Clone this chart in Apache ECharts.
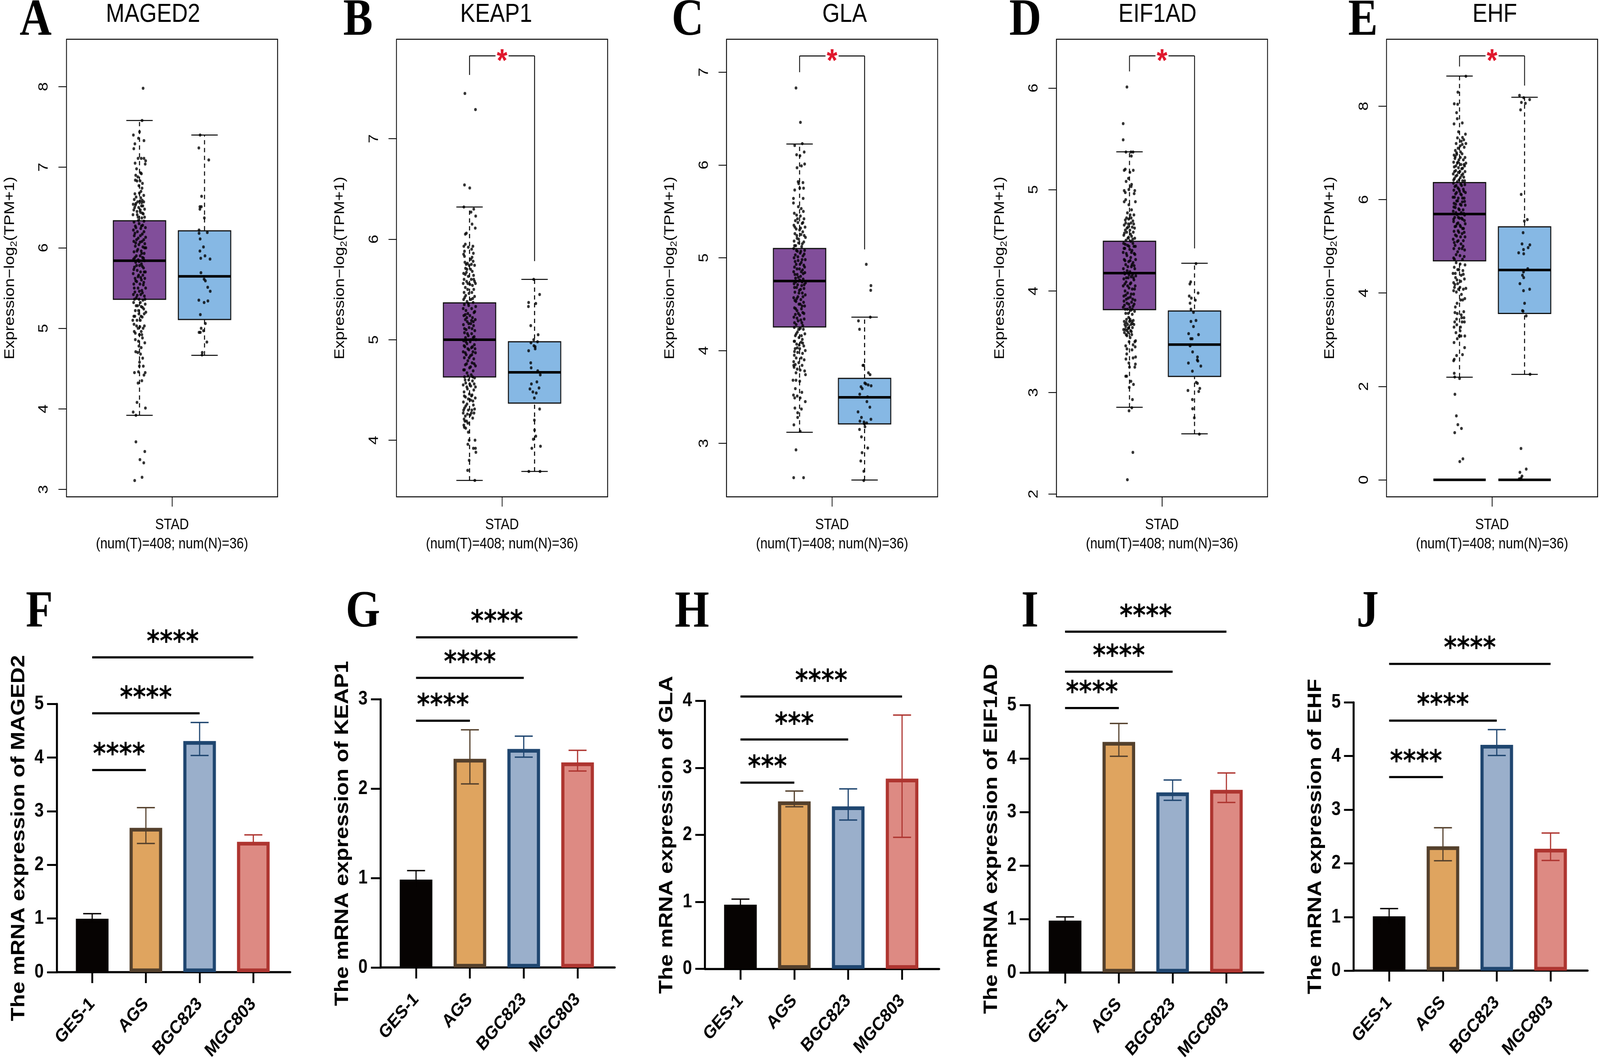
<!DOCTYPE html>
<html><head><meta charset="utf-8">
<style>html,body{margin:0;padding:0;background:#fff;overflow:hidden}#c{width:4805px;height:2719px;transform-origin:0 0}</style>
<script src="https://cdn.jsdelivr.net/npm/echarts@6/dist/echarts.min.js"></script>
</head><body><div id="c"></div>
<script>
// ---------- Box panels: [low whisker, Q1, median, Q3, high whisker] ----------
const boxGenes=['MAGED2','KEAP1','GLA','EIF1AD','EHF'];
const maged2Tumor=[3.92,5.36,5.84,6.335,7.58], maged2Normal=[4.665,5.11,5.645,6.21,7.40];
const keap1Tumor=[3.60,4.63,5.00,5.366,6.32], keap1Normal=[3.69,4.37,4.676,4.98,5.60];
const glaTumor=[3.12,4.255,4.75,5.10,6.226], glaNormal=[2.605,3.21,3.496,3.70,4.36];
const eif1adTumor=[2.854,3.817,4.176,4.49,5.372], eif1adNormal=[2.593,3.158,3.472,3.803,4.274];
const ehfTumor=[2.197,4.689,5.689,6.364,8.644], ehfNormal=[2.258,3.561,4.492,5.417,8.19];
const maged2Ticks=[3,4,5,6,7,8], keap1Ticks=[4,5,6,7], glaTicks=[3,4,5,6,7], eif1adTicks=[2,3,4,5,6], ehfTicks=[0,2,4,6,8];
// y range of each frame
const maged2Range=[2.908,8.589], keap1Range=[3.437,7.989], glaRange=[2.424,7.355], eif1adRange=[1.972,6.481], ehfRange=[-0.364,9.432];
// significance bracket: top, left leg end, right leg end (null = none)
const maged2Bracket=null, keap1Bracket=[7.824,7.634,5.782], glaBracket=[7.175,7.0,5.09], eif1adBracket=[6.317,6.164,4.42], ehfBracket=[9.076,8.848,8.44];
const boxXLabel='STAD\n(num(T)=408; num(N)=36)';
// jittered points as alternating horizontal offset, expression
const maged2TumorPts=[17,7.98,12,7.58,-29,7.40,0,7.44,-5,7.36,21,7.33,-22,7.29,-27,7.23,-7,7.11,8,7.11,21,7.11,29,7.08,27,7.04,-21,7.05,-12,4.08,28,4.01,-30,3.96,-17,3.92,-17,3.59,25,3.47,2,3.37,20,3.33,12,3.15,-23,3.11,-24,4.45,-5,4.46,27,4.45,21,4.42,11,4.35,-7,4.32,-1,4.53,
-14,6.98,5,6.93,-18,6.9,-8,6.88,9,6.92,-20,6.84,-12,6.83,3,6.83,14,6.8,-3,6.77,12,6.74,7,6.7,-1,6.68,-22,6.67,20,6.65,-16,6.63,6,6.62,-25,6.6,13,6.59,-9,6.57,2,6.58,20,6.57,-30,6.54,-19,6.53,9,6.52,16,6.52,-4,6.5,-27,6.47,24,6.48,-12,6.45,5,6.44,18,6.42,-31,6.41,-7,6.38,11,6.37,24,6.38,-26,6.32,-2,6.3,15,6.28,-20,6.27,28,6.25,6,6.24,-29,6.22,-10,6.2,21,6.2,-25,6.15,4,6.15,29,6.13,-14,6.1,12,6.08,-27,6.08,25,6.05,-3,6.04,-20,6.02,16,6.01,30,6.0,-8,5.98,8,5.96,-26,5.95,22,5.93,-15,5.9,3,5.9,14,5.88,-28,5.86,-6,5.85,24,5.84,-18,5.82,9,5.8,0,5.78,-24,5.76,19,5.75,-11,5.72,28,5.7,5,5.7,-30,5.68,-4,5.66,16,5.66,-21,5.62,25,5.62,9,5.6,-13,5.58,-27,5.55,2,5.55,18,5.54,-7,5.5,29,5.5,11,5.47,-22,5.45,-29,5.42,6,5.42,23,5.4,-15,5.38,-2,5.36,16,5.35,-28,5.32,27,5.3,-9,5.28,8,5.27,20,5.24,-20,5.22,30,5.2,-3,5.18,-27,5.15,13,5.14,-12,5.1,-32,5.1,4,5.1,-26,5.05,23,5.03,-7,5.0,17,5.0,8,4.96,-25,4.96,-1,4.92,14,4.88,-20,4.86,-5,4.84,25,4.82,-3,4.78,8,4.76,-18,4.71,5,4.68,15,4.63,-8,4.7,0,4.58,18,4.53,
-17,6.55,10,6.56,-23,6.5,4,6.47,-11,6.41,14,6.43,-5,6.34,21,6.33,-17,6.25,9,6.27,-22,6.18,13,6.17,-6,6.12,20,6.1,-18,6.06,3,6.07,24,6.0,-12,5.96,10,5.93,-22,5.88,19,5.87,-2,5.83,-14,5.78,13,5.77,-27,5.73,22,5.7,-7,5.64,6,5.63,-18,5.59,20,5.57,-25,5.5,-1,5.46,14,5.44,-11,5.41,26,5.36,-24,5.36,4,5.32,-16,5.28,14,5.26,-5,5.22,22,5.18,-22,5.15,7,5.15,-14,5.03,2,5.02,-20,4.94,11,4.92];
const maged2NormalPts=[-21,7.40,-27,7.24,20,7.09,-14,6.64,-22,6.51,-15,6.51,-22,6.48,-1,6.37,-26,6.22,-26,6.18,13,6.19,-21,6.11,-5,6.01,-22,5.96,2,5.90,-18,5.87,26,5.86,-17,5.69,-2,5.61,4,5.59,15,5.51,27,5.46,-27,5.35,16,5.34,-2,5.32,-20,5.17,4,5.06,-16,5.00,-26,4.95,-20,4.95,-5,4.97,11,4.83,-11,4.70,-12,4.67];
const keap1TumorPts=[-22,7.45,28,7.29,-24,6.54,1,6.51,-27,6.32,20,6.30,7,6.27,29,6.23,12,6.15,27,6.11,-15,6.06,-20,6.05,-25,4.13,-6,4.08,26,4.0,-2,4.0,-8,3.96,18,3.92,28,3.92,30,3.88,-2,3.80,-9,3.70,25,3.60,
-20,5.95,-27,5.93,-24,5.88,-6,5.92,16,5.93,10,5.9,-28,5.85,18,5.86,-24,5.83,12,5.82,6,5.8,17,5.78,-10,5.76,-16,5.75,-2,5.74,24,5.74,-19,5.71,-12,5.7,5,5.7,13,5.68,-28,5.66,-20,5.65,-6,5.63,19,5.64,-26,5.6,-14,5.58,8,5.6,24,5.58,-30,5.56,2,5.55,14,5.54,28,5.56,-20,5.52,-9,5.5,20,5.5,-26,5.47,-3,5.46,11,5.47,-18,5.44,24,5.43,-28,5.4,6,5.4,-12,5.38,17,5.37,-25,5.35,-4,5.34,29,5.33,-30,5.31,10,5.31,-17,5.29,21,5.27,-8,5.26,-27,5.24,2,5.24,14,5.22,-20,5.2,27,5.2,-11,5.18,6,5.16,-29,5.15,19,5.14,-2,5.12,-16,5.1,25,5.09,-24,5.07,10,5.06,-6,5.04,-19,5.02,17,5.02,30,5.0,-28,4.99,3,4.98,-12,4.96,23,4.95,-22,4.93,9,4.92,-3,4.9,-30,4.88,16,4.88,28,4.87,-16,4.85,4,4.84,-25,4.82,20,4.81,-8,4.79,12,4.77,-20,4.75,28,4.74,0,4.72,-28,4.7,17,4.69,-12,4.67,8,4.65,-24,4.63,24,4.62,-4,4.6,14,4.59,-18,4.57,-30,4.55,6,4.54,28,4.53,-10,4.51,20,4.5,-26,4.48,-1,4.46,12,4.45,-19,4.43,27,4.42,5,4.4,-29,4.38,-12,4.36,18,4.35,-24,4.32,24,4.31,-6,4.3,-30,4.27,8,4.27,-20,4.24,-26,4.21,15,4.22,-14,4.19,-27,4.15,-8,4.17,3,4.25,
-22,5.77,9,5.75,-15,5.67,20,5.6,-8,5.56,-23,5.42,15,5.41,-6,5.36,25,5.28,-20,5.25,-13,5.22,9,5.19,-4,5.16,18,5.18,-24,5.11,12,5.11,-10,5.06,22,5.03,-17,4.98,6,5.0,-26,4.94,14,4.93,-8,4.91,26,4.91,-20,4.87,11,4.85,-2,4.82,-14,4.76,22,4.76,5,4.73,-24,4.7,-7,4.64,15,4.63,-21,4.6,1,4.56,22,4.56,-13,4.53,-25,4.44,9,4.44,-6,4.41,16,4.39,-18,4.34,-28,4.3,11,4.3,-10,4.26,21,4.27,-22,4.19,-18,4.12];
const keap1NormalPts=[-4,5.6,24,5.45,-28,5.37,6,5.36,-29,5.33,-18,5.14,17,5.05,-4,5.0,-17,4.97,14,4.98,-3,4.94,3,4.93,-28,4.89,3,4.91,-18,4.77,-16,4.72,15,4.69,27,4.65,11,4.58,-15,4.56,21,4.52,-22,4.51,-8,4.48,8,4.47,-1,4.42,24,4.31,-1,4.2,0,4.10,6,4.04,-6,4.01,28,3.94,-13,3.92,-27,3.69,26,3.69];
const glaTumorPts=[-17,6.83,4,6.46,13,6.23,-23,6.21,22,6.14,-14,6.11,2,6.10,24,6.01,9,5.99,-12,5.97,-7,5.82,-4,5.80,16,5.81,19,5.75,1,5.75,-23,5.73,-29,5.64,-29,5.59,17,5.64,27,3.45,3,3.49,-22,3.38,9,3.37,-9,3.33,-9,3.28,-27,3.20,3,3.13,-17,2.93,-28,2.63,19,2.63,-29,3.52,-23,3.49,11,3.55,1,3.67,-31,3.68,-17,3.68,-20,3.59,-11,3.51,28,3.74,
-6,5.55,8,5.53,18,5.5,-25,5.48,-14,5.46,4,5.45,21,5.42,-20,5.4,-8,5.38,12,5.37,-27,5.35,26,5.33,-16,5.31,0,5.3,15,5.28,-22,5.26,7,5.25,28,5.22,-12,5.21,-26,5.18,20,5.17,-5,5.16,-18,5.13,10,5.12,-28,5.1,24,5.08,-10,5.07,3,5.05,-20,5.03,16,5.02,-26,5.0,27,4.98,-7,4.97,8,4.95,-16,4.93,20,4.92,-24,4.9,0,4.88,14,4.87,-28,4.85,25,4.84,-11,4.82,5,4.8,-19,4.78,17,4.77,-4,4.75,28,4.73,-26,4.72,10,4.7,-14,4.68,21,4.67,-1,4.65,-22,4.63,13,4.62,27,4.6,-8,4.58,-28,4.57,6,4.55,-17,4.53,19,4.52,-3,4.5,24,4.48,-24,4.46,9,4.45,-12,4.43,15,4.41,-20,4.39,1,4.38,-27,4.36,22,4.34,-7,4.32,11,4.3,-16,4.28,-25,4.25,4,4.24,18,4.23,-10,4.2,25,4.18,-20,4.16,-3,4.14,13,4.12,-26,4.1,7,4.09,-14,4.07,20,4.05,-21,4.02,1,4.02,27,4.0,-9,3.98,14,3.97,-25,3.95,-16,3.92,8,3.92,-28,3.88,22,3.9,-4,3.87,-20,3.85,12,3.84,-26,3.82,-11,3.8,3,3.79,24,3.78,-17,3.76,-28,3.84,
-10,5.42,16,5.38,-22,5.33,5,5.32,-13,5.24,22,5.24,-4,5.2,-24,5.13,13,5.15,-15,5.08,6,5.07,22,5.04,-8,5.01,12,4.98,-21,4.96,2,4.93,24,4.9,-12,4.88,8,4.85,-22,4.82,17,4.83,-6,4.79,1,4.76,-18,4.74,12,4.74,22,4.71,-9,4.71,-24,4.68,5,4.66,-3,4.62,16,4.58,-13,4.56,-22,4.54,3,4.5,12,4.48,-18,4.45,-6,4.4,21,4.4,-12,4.35,6,4.33,-24,4.3,15,4.27,-5,4.23,-16,4.18,9,4.16,-23,4.1,-2,4.06,15,4.08,-11,4.03,-24,3.99];
const glaNormalPts=[8,4.93,30,4.70,29,4.65,27,4.36,-29,4.32,-24,4.23,-8,3.84,-4,3.84,18,3.76,26,3.74,1,3.65,6,3.64,-17,3.61,17,3.63,31,3.62,-11,3.59,-23,3.53,14,3.50,11,3.45,25,3.39,-31,3.34,-15,3.28,30,3.26,-22,3.24,-3,3.23,-1,3.21,10,3.22,2,3.18,-24,3.15,-15,3.07,15,2.95,-12,2.90,-18,2.81,-4,2.70,-4,2.60];
const eif1adTumorPts=[-12,6.01,-30,5.65,-30,5.49,-17,5.37,7,5.37,17,5.37,9,5.33,-25,5.19,-20,5.2,18,5.19,2,5.17,-5,5.11,-16,5.08,10,5.05,8,5.03,25,4.99,-25,4.99,-20,4.97,-3,5.0,22,4.96,-25,4.88,28,4.88,-3,4.85,-18,4.9,-13,3.16,-18,3.16,25,3.25,28,3.28,7,3.11,19,3.08,-1,3.05,14,2.93,11,2.85,-2,2.82,16,2.41,-10,2.14,0,3.25,-3,3.29,-17,3.33,-13,3.38,17,3.34,29,3.35,12,3.42,27,3.45,-18,3.46,29,3.51,
10,4.8,-10,4.77,3,4.75,21,4.75,-14,4.72,-4,4.71,16,4.69,-18,4.67,7,4.67,-25,4.65,-7,4.63,13,4.63,24,4.62,-20,4.6,2,4.6,-13,4.58,18,4.58,-27,4.55,10,4.54,-4,4.53,25,4.52,-17,4.5,6,4.49,-28,4.47,16,4.47,-9,4.45,28,4.44,-22,4.42,1,4.41,12,4.4,-30,4.38,22,4.37,-12,4.35,6,4.33,-25,4.31,29,4.31,-4,4.29,17,4.28,-18,4.26,9,4.24,-29,4.22,25,4.22,-11,4.2,2,4.19,-22,4.17,14,4.16,30,4.15,-6,4.13,-27,4.12,21,4.11,-16,4.09,7,4.08,-30,4.05,27,4.05,-2,4.03,13,4.02,-21,4.0,-9,3.98,20,3.97,-27,3.95,4,3.94,-15,3.92,26,3.91,10,3.89,-3,3.87,-24,3.86,17,3.85,-30,3.84,-10,3.82,6,3.81,24,3.8,-18,3.78,13,3.77,-4,3.74,-25,3.7,-15,3.69,0,3.7,10,3.7,18,3.71,-22,3.67,-9,3.67,7,3.67,21,3.67,-18,3.65,-3,3.64,14,3.64,-28,3.62,-12,3.61,5,3.61,-24,3.59,-6,3.59,-16,3.57,11,3.57,3,3.54,-2,3.5,25,3.5,17,3.47,-12,3.43,
-20,4.7,8,4.72,-5,4.66,20,4.66,-12,4.62,-24,4.57,5,4.56,-8,4.52,15,4.51,-20,4.46,21,4.44,-2,4.44,-26,4.42,9,4.38,-15,4.37,26,4.36,3,4.3,-21,4.3,12,4.26,-8,4.24,22,4.25,-25,4.18,-2,4.16,8,4.14,-15,4.13,19,4.13,-22,4.07,3,4.07,-9,4.05,24,4.02,-18,3.96,8,3.97,-6,3.93,-26,3.9,15,3.92,-12,3.88,22,3.87,2,3.84,-20,3.82,13,3.82,-6,3.78,-14,3.72,3,3.72,14,3.68,-7,3.63,-20,3.62,9,3.6,-12,3.56];
const eif1adNormalPts=[7,4.27,-18,4.09,-22,4.07,17,3.98,-25,3.95,-15,3.93,4,3.91,-21,3.88,-17,3.82,-5,3.79,-17,3.7,7,3.71,-5,3.65,-28,3.58,19,3.57,-18,3.53,-11,3.53,-19,3.47,-21,3.46,-9,3.40,14,3.35,13,3.32,16,3.31,-29,3.29,30,3.26,-10,3.21,8,3.10,14,3.09,25,3.04,-31,3.02,20,3.01,-10,2.93,-9,2.84,-1,2.75,23,2.59];
const ehfTumorPts=[30,8.64,-8,8.30,-25,8.05,-9,8.04,-14,7.86,-11,7.73,-26,7.62,13,7.64,-5,7.45,28,7.40,-25,2.28,-23,2.2,0,2.17,-22,1.83,-15,1.37,-8,1.18,9,1.10,-23,1.01,16,0.45,1,0.39,-25,2.58,-28,2.55,-14,2.66,14,2.68,24,2.83,-26,2.94,-11,3.02,-2,3.08,7,3.08,25,3.08,-17,3.15,3,3.19,-26,3.27,-13,3.32,5,3.27,23,3.38,-23,3.38,12,3.38,-14,3.44,21,3.47,10,3.47,
-10,7.32,14,7.33,8,7.25,20,7.28,30,7.2,-16,7.2,3,7.15,13,7.18,-7,7.1,22,7.12,-20,7.05,5,7.02,-26,6.95,-13,6.97,12,6.98,26,6.9,-22,6.88,-3,6.85,18,6.85,30,6.78,-28,6.8,-11,6.78,7,6.75,24,6.72,-25,6.7,-5,6.68,15,6.67,-18,6.62,2,6.6,26,6.6,-30,6.55,-12,6.52,10,6.52,20,6.48,-24,6.45,-3,6.42,14,6.4,-29,6.35,6,6.33,-16,6.3,25,6.32,-8,6.25,18,6.22,-27,6.2,0,6.18,28,6.15,-19,6.12,9,6.1,-31,6.05,-6,6.03,22,6.03,-14,5.97,13,5.95,-26,5.92,3,5.9,27,5.88,-20,5.83,-4,5.8,17,5.78,-30,5.75,8,5.72,-12,5.68,24,5.67,-23,5.62,0,5.6,14,5.58,-28,5.53,-7,5.5,27,5.48,-17,5.43,5,5.42,19,5.38,-26,5.32,-3,5.3,12,5.27,-14,5.22,26,5.2,-30,5.15,-6,5.12,7,5.05,-21,5.02,17,5.0,-27,4.95,24,4.92,-9,4.88,2,4.8,-28,4.75,14,4.72,-16,4.65,26,4.6,-25,4.55,-3,4.5,16,4.48,-31,4.42,8,4.38,-19,4.33,23,4.3,-28,4.22,-9,4.2,-24,4.12,2,4.12,18,4.08,30,4.1,-15,4.02,-28,4.05,9,3.97,-12,3.78,5,3.85,25,3.88,-20,3.7,15,3.85,-22,3.58,-11,3.56,8,3.53,20,3.6,
-14,7.0,-20,6.92,4,6.9,-8,6.8,21,6.75,-17,6.72,10,6.66,-24,6.6,-6,6.58,16,6.55,-18,6.5,4,6.47,-28,6.42,24,6.4,-11,6.38,10,6.3,-22,6.28,-3,6.22,20,6.18,-14,6.15,5,6.12,-24,6.05,14,6.03,-9,5.97,24,5.96,-18,5.9,8,5.88,-27,5.84,-1,5.78,20,5.7,-17,5.72,-6,5.62,10,5.6,-28,5.58,23,5.55,-12,5.48,2,5.45,-22,5.42,14,5.38,-7,5.33,22,5.3,-20,5.24,5,5.2,-11,5.1,18,5.12,-25,5.08,-2,4.95,12,4.95,-16,4.82,22,4.78,-24,4.72,3,4.62,-9,4.5,-20,4.42,18,4.4,-12,4.28,-22,4.18,6,4.25,-5,4.08];
const ehfNormalPts=[-24,8.23,-4,8.18,24,8.14,-15,8.08,4,8.06,-19,7.92,-16,6.11,-1,5.54,13,5.57,-7,5.29,-12,5.05,25,5.03,17,4.97,-5,4.93,-28,4.86,-4,4.84,15,4.52,-5,4.45,-10,4.38,-4,4.33,-22,4.2,-5,4.05,24,4.08,0,3.78,-10,3.62,-7,3.61,8,3.51,26,2.26,-17,0.67,8,0.23,-22,0.16,-12,0.08,-16,0.04,-25,0.02,-18,0.01];
const ehfZeroLine=[0];

// ---------- Bar panels ----------
const barCategories=['GES-1','AGS','BGC823','MGC803'];
const barGenes=['MAGED2','KEAP1','GLA','EIF1AD','EHF'];
const maged2Means=[0.995,2.69,4.31,2.43], maged2High=[1.09,3.067,4.655,2.56], maged2Low=[0.91,2.40,4.04,2.39];
const keap1Means=[0.984,2.335,2.445,2.295], keap1High=[1.084,2.66,2.589,2.43], keap1Low=[0.90,2.054,2.354,2.199];
const glaMeans=[0.958,2.50,2.425,2.84], glaHigh=[1.04,2.654,2.687,3.788], glaLow=[0.88,2.419,2.221,1.963];
const eif1adMeans=[0.972,4.315,3.37,3.417], eif1adHigh=[1.041,4.66,3.602,3.734], eif1adLow=[0.90,4.045,3.222,3.182];
const ehfMeans=[1.013,2.318,4.21,2.272], ehfHigh=[1.156,2.664,4.494,2.566], ehfLow=[0.87,2.048,4.01,2.054];
const barMaxTicks=[5,3,4,5,5];
// significance lines: to-category index, height, stars
const maged2Sig=[[3,5.869,'****'],[2,4.827,'****'],[1,3.769,'****']];
const keap1Sig=[[3,3.694,'****'],[2,3.241,'****'],[1,2.761,'****']];
const glaSig=[[3,4.065,'****'],[2,3.424,'***'],[1,2.779,'***']];
const eif1adSig=[[3,6.375,'****'],[2,5.627,'****'],[1,4.948,'****']];
const ehfSig=[[3,5.719,'****'],[2,4.661,'****'],[1,3.608,'****']];

// ---------- Styles and layout ----------
const SANS='"Liberation Sans",Arial,sans-serif', SERIF='"Liberation Serif",serif';
const boxFill=['#814E9A','#86B8E4'];
const barFill=['#060302','#DFA45F','#9AAFCB','#DD8A83'], barEdge=['#060302','#54402C','#1F4670','#AE3530'];
const boxLefts=[199.6,1190.7,2181.8,3172.6,4163.8], boxWidth=634, boxTop=100.5, boxHeight=1171.5;
const boxCentre=[346,654], boxHalf=124, capHalf=62.5;
const barLayouts=[
 {left:170.3,right:871.8,top:1802.4,bottom:2489,c0:276.8,step:161.3},
 {left:1142.9,right:1846.3,top:1790.6,bottom:2477.2,c0:1249.4,step:161.7},
 {left:2117,right:2820.5,top:1794.5,bottom:2480.4,c0:2223.6,step:161.8},
 {left:3091.3,right:3794,top:1805.6,bottom:2492.2,c0:3198.5,step:161.5},
 {left:4065.2,right:4768,top:1798.4,bottom:2485.1,c0:4171.7,step:161.6}];
const letters=[['A',107,55],['B',1075,55],['C',2065,55],['D',3079,55],['E',4093,55],['F',118,1570],['G',1090,1570],['H',2078,1570],['I',3093,1570],['J',4107,1570]];
const geneTitleX=[459.6,1490,2536.5,3476,4489];

const pairs=(flat,c)=>{const o=[];for(let i=0;i<flat.length;i+=2)o.push([c+flat[i],flat[i+1]]);return o;};
const boxData=[[maged2Tumor,maged2Normal,maged2TumorPts,maged2NormalPts,maged2Ticks,maged2Range,maged2Bracket],
 [keap1Tumor,keap1Normal,keap1TumorPts,keap1NormalPts,keap1Ticks,keap1Range,keap1Bracket],
 [glaTumor,glaNormal,glaTumorPts,glaNormalPts,glaTicks,glaRange,glaBracket],
 [eif1adTumor,eif1adNormal,eif1adTumorPts,eif1adNormalPts,eif1adTicks,eif1adRange,eif1adBracket],
 [ehfTumor,ehfNormal,ehfTumorPts,ehfNormalPts,ehfTicks,ehfRange,ehfBracket]];
const barData=[[maged2Means,maged2High,maged2Low,maged2Sig],[keap1Means,keap1High,keap1Low,keap1Sig],[glaMeans,glaHigh,glaLow,glaSig],[eif1adMeans,eif1adHigh,eif1adLow,eif1adSig],[ehfMeans,ehfHigh,ehfLow,ehfSig]];

const grid=[],xAxis=[],yAxis=[],series=[],graphic=[];
const line=(a,b,stroke,lineWidth,lineDash)=>({type:'line',shape:{x1:a[0],y1:a[1],x2:b[0],y2:b[1]},style:{stroke,lineWidth,lineDash}});

function renderBox(params,api){
  const x=api.value(0),v=[1,2,3,4,5].map(i=>api.value(i));
  const p=(a,b)=>api.coord([a,b]);
  const tl=p(x-boxHalf,v[3]),br=p(x+boxHalf,v[1]);
  return {type:'group',children:[
    line(p(x,v[0]),p(x,v[4]),'#000',3,[11,9]),
    line(p(x-capHalf,v[0]),p(x+capHalf,v[0]),'#000',2.5),
    line(p(x-capHalf,v[4]),p(x+capHalf,v[4]),'#000',2.5),
    {type:'rect',shape:{x:tl[0],y:tl[1],width:br[0]-tl[0],height:br[1]-tl[1]},style:{fill:boxFill[params.dataIndex],stroke:'#111',lineWidth:3}},
    line(p(x-boxHalf,v[2]),p(x+boxHalf,v[2]),'#000',6.5)
  ]};
}
function renderZero(params,api){
  const x=api.value(0),y=api.value(1);
  return line(api.coord([x-boxHalf,y]),api.coord([x+boxHalf,y]),'#000',6.5);
}
function renderBracket(params,api){
  const a=api.value(0),b=api.value(1),t=api.value(2),lb=api.value(3),rb=api.value(4);
  const p=(u,w)=>api.coord([u,w]);
  const mid=p((a+b)/2,t);
  return {type:'group',children:[
    line(p(a,lb),p(a,t),'#000',2.5),
    line(p(a,t),p(469,t),'#000',2.5),
    line(p(531,t),p(b,t),'#000',2.5),
    line(p(b,t),p(b,rb),'#000',2.5),
    {type:'text',x:mid[0],y:mid[1]+16,style:{text:'*',font:'bold 82px '+SANS,fill:'#E0182D',textAlign:'center',textVerticalAlign:'middle'}}
  ]};
}
boxData.forEach((d,i)=>{
  grid.push({left:boxLefts[i],top:boxTop,width:boxWidth,height:boxHeight,show:true,borderColor:'#000',borderWidth:2.5,backgroundColor:'transparent'});
  xAxis.push({gridIndex:i,type:'value',min:0,max:1000,interval:500,splitLine:{show:false},axisLine:{show:false,onZero:false},
    axisTick:{show:true,length:25,lineStyle:{color:'#000',width:2.2},customValues:[500]},
    axisLabel:{show:true,margin:48,customValues:[500],formatter:()=>boxXLabel,fontFamily:SANS,fontSize:39,lineHeight:49,color:'#000'}});
  yAxis.push({gridIndex:i,type:'value',min:d[5][0],max:d[5][1],splitLine:{show:false},axisLine:{show:false,onZero:false},
    axisTick:{show:true,length:24,lineStyle:{color:'#000',width:2.2},customValues:d[4]},
    axisLabel:{show:true,rotate:90,margin:47,customValues:d[4],fontFamily:SANS,fontSize:41,color:'#000',align:'center',verticalAlign:'bottom'},
    name:'{n|Expression\u2212log}{s|2}{n|(TPM+1)}',nameLocation:'middle',nameGap:144,
    nameTextStyle:{rich:{n:{fontFamily:SANS,fontSize:42,color:'#000',lineHeight:50},s:{fontFamily:SANS,fontSize:27,color:'#000',lineHeight:40,verticalAlign:'bottom'}}}});
  series.push({type:'custom',name:boxGenes[i]+' boxes',xAxisIndex:i,yAxisIndex:i,silent:true,z:2,renderItem:renderBox,encode:{x:0,y:[1,2,3,4,5]},
    data:[[boxCentre[0],...d[0]],[boxCentre[1],...d[1]]]});
  if(i===4) series.push({type:'custom',name:'EHF zero',xAxisIndex:i,yAxisIndex:i,silent:true,z:3,renderItem:renderZero,encode:{x:0,y:1},
    data:[[boxCentre[0],ehfZeroLine[0]],[boxCentre[1],ehfZeroLine[0]]]});
  const dot={type:'scatter',xAxisIndex:i,yAxisIndex:i,silent:true,z:4,symbol:'circle',symbolSize:8,itemStyle:{color:'#000'},animation:false};
  series.push({...dot,name:boxGenes[i]+' tumor',data:pairs(d[2],boxCentre[0])});
  series.push({...dot,name:boxGenes[i]+' normal',data:pairs(d[3],boxCentre[1])});
  if(d[6]) series.push({type:'custom',name:boxGenes[i]+' bracket',xAxisIndex:i,yAxisIndex:i,silent:true,z:5,renderItem:renderBracket,encode:{x:[0,1],y:[2,3,4]},
    data:[[boxCentre[0],boxCentre[1],...d[6]]]});
  graphic.push({type:'text',x:geneTitleX[i],y:38,style:{text:boxGenes[i],font:'67px '+SANS,fill:'#000',textAlign:'center',textVerticalAlign:'middle'}});
});

function renderError(params,api){
  const x=api.value(0),hi=api.coord([x,api.value(1)]),lo=api.coord([x,api.value(2)]);
  const c=barEdge[params.dataIndex];
  return {type:'group',children:[
    line(hi,lo,c,3.5),
    line([hi[0]-27,hi[1]],[hi[0]+27,hi[1]],c,3.5),
    line([lo[0]-27,lo[1]],[lo[0]+27,lo[1]],c,3.5)]};
}
function renderSig(stars){return function(params,api){
  const a=api.coord([api.value(0),api.value(2)]),b=api.coord([api.value(1),api.value(2)]);
  return {type:'group',children:[
    line(a,b,'#000',5.5),
    {type:'text',x:(a[0]+b[0])/2,y:a[1]-36,style:{text:stars[params.dataIndex],font:'bold 75px "DejaVu Sans"',fill:'#000',textAlign:'center',textVerticalAlign:'middle'}}
  ]};
};}
barData.forEach((d,k)=>{
  const i=k+5,L=barLayouts[k];
  grid.push({left:L.left,top:L.top,width:L.right-L.left,height:L.bottom-L.top});
  xAxis.push({gridIndex:i,type:'value',min:(L.left-L.c0)/L.step,max:(L.right-L.c0)/L.step,splitLine:{show:false},
    axisLine:{show:true,onZero:false,lineStyle:{color:'#000',width:5.5}},
    axisTick:{show:true,length:28,lineStyle:{color:'#000',width:5.5},customValues:[0,1,2,3]},
    axisLabel:{show:true,rotate:45,margin:74,customValues:[0,1,2,3],formatter:v=>barCategories[v],fontFamily:SANS,fontWeight:'bold',fontSize:48,color:'#000'}});
  yAxis.push({gridIndex:i,type:'value',min:0,max:barMaxTicks[k],interval:1,splitLine:{show:false},
    axisLine:{show:true,onZero:false,lineStyle:{color:'#000',width:6}},
    axisTick:{show:true,length:29,lineStyle:{color:'#000',width:5}},
    axisLabel:{show:true,margin:39,fontFamily:SANS,fontWeight:'bold',fontSize:50,color:'#000'},
    name:'The mRNA expression of '+barGenes[k],nameLocation:'middle',nameGap:85,nameTextStyle:{fontFamily:SANS,fontWeight:'bold',fontSize:57,color:'#000'}});
  series.push({type:'bar',name:barGenes[k]+' mean',xAxisIndex:i,yAxisIndex:i,silent:true,barWidth:98,z:2,
    data:d[0].map((v,j)=>({value:[j,v],itemStyle:{color:barFill[j],borderColor:barEdge[j],borderWidth:9.5}}))});
  series.push({type:'custom',name:barGenes[k]+' error',xAxisIndex:i,yAxisIndex:i,silent:true,z:3,renderItem:renderError,encode:{x:0,y:[1,2]},
    data:d[0].map((v,j)=>[j,d[1][j],d[2][j]])});
  series.push({type:'custom',name:barGenes[k]+' significance',xAxisIndex:i,yAxisIndex:i,silent:true,z:3,renderItem:renderSig(d[3].map(s=>s[2])),encode:{x:[0,1],y:2},
    data:d[3].map(s=>[0,s[0],s[1]])});
});
letters.forEach(l=>graphic.push({type:'text',x:l[1],y:l[2],style:{text:l[0],font:'bold 133px '+SERIF,fill:'#000',textAlign:'center',textVerticalAlign:'middle'}}));

// The window can be narrower than the figure: fit the whole figure into it.
const host=document.getElementById('c');
host.style.transform='scale('+Math.min(1,window.innerWidth/4805)+','+Math.min(1,window.innerHeight/2719)+')';
const chart=echarts.init(host,null,{renderer:'canvas',width:4805,height:2719});
chart.setOption({animation:false,backgroundColor:'#fff',tooltip:{show:false},grid,xAxis,yAxis,series,graphic});
</script></body></html>
